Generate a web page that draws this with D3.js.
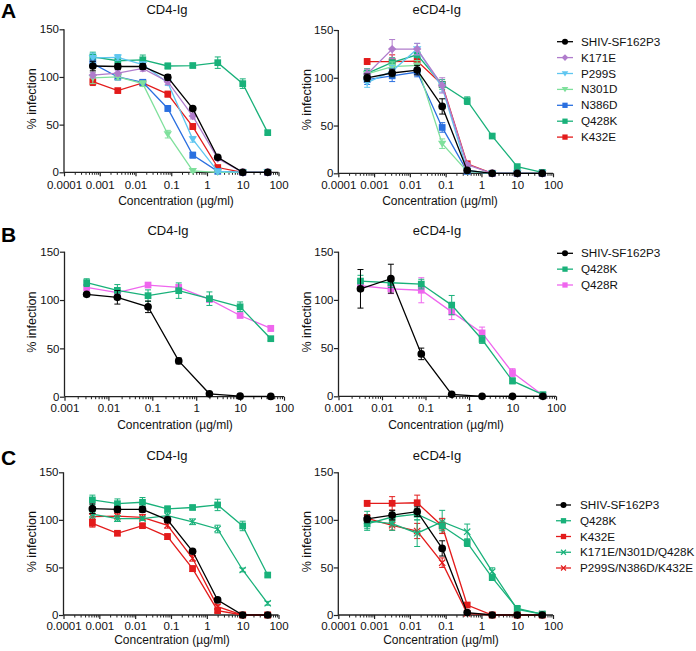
<!DOCTYPE html>
<html><head><meta charset="utf-8">
<script src="https://cdn.jsdelivr.net/npm/d3@7"></script>
<style>
html,body{margin:0;padding:0;background:#fff;}
svg{display:block;font-family:"Liberation Sans",Arial,sans-serif;}
</style></head>
<body><svg id="c" width="696" height="651"></svg>
<script>
// ---------------- DATA ----------------
const conc8 = [0.00064, 0.0032, 0.016, 0.08, 0.4, 2, 10, 50];
const conc7 = [0.0032, 0.016, 0.08, 0.4, 2, 10, 50];
const xTicksA = [0.0001, 0.001, 0.01, 0.1, 1, 10, 100];
const xTicksB = [0.001, 0.01, 0.1, 1, 10, 100];
const xTickLabelsA = ["0.0001", "0.001", "0.01", "0.1", "1", "10", "100"];
const xTickLabelsB = ["0.001", "0.01", "0.1", "1", "10", "100"];
const yTicks = [0, 50, 100, 150];

const legendA = ["SHIV-SF162P3", "K171E", "P299S", "N301D", "N386D", "Q428K", "K432E"];
const legendB = ["SHIV-SF162P3", "Q428K", "Q428R"];
const legendC = ["SHIV-SF162P3", "Q428K", "K432E", "K171E/N301D/Q428K", "P299S/N386D/K432E"];

// Panel A, CD4-Ig
const aCd4Shiv  = [111.5, 111, 111, 99.6, 66.8, 15.7, 0, 0];
const aCd4K171E = [102, 104, 109, 95, 59, 14.5, 0, 0];
const aCd4P299S = [120, 120.5, 113, 94, 34.6, 1, 0, 0];
const aCd4N301D = [99, 100, 93, 40, 1.5, 0, 0, 0];
const aCd4N386D = [114, 100, 94.4, 67, 18, 1, 0, 0];
const aCd4Q428K = [121, 117, 118, 111.5, 112, 115, 93, 41.6];
const aCd4K432E = [95, 85.7, 93.7, 82, 48, 5, 0, 0];
const aCd4ShivErr  = [5, 3, 3, 3, 2, 2, 0, 0];
const aCd4K171EErr = [3, 3, 3, 3, 3, 2, 0, 0];
const aCd4P299SErr = [5, 3, 3, 3, 3, 1, 0, 0];
const aCd4N301DErr = [6, 3, 3, 4, 2, 0, 0, 0];
const aCd4N386DErr = [4, 3, 3, 3, 3, 1, 0, 0];
const aCd4Q428KErr = [5, 4, 5, 3, 2, 6, 5, 2];
const aCd4K432EErr = [4, 2, 2, 3, 3, 2, 0, 0];

// Panel A, eCD4-Ig
const aeShiv  = [100, 105, 108, 70, 3, 0, 0, 0];
const aeK171E = [104, 130, 130, 92, 9, 0, 0, 0];
const aeP299S = [95, 107, 130, 90, 3, 0, 0, 0];
const aeN301D = [104, 111.6, 113, 31, 2, 0, 0, 0];
const aeN386D = [98, 102, 106, 48, 2, 0, 0, 0];
const aeQ428K = [104.6, 116, 124, 93, 76, 39, 7, 1];
const aeK432E = [117, 117, 117.5, 93, 10, 0, 0, 0];
const aeShivErr  = [4, 4, 5, 8, 1, 0, 0, 0];
const aeK171EErr = [5, 10, 6, 8, 2, 0, 0, 0];
const aeP299SErr = [5, 6, 6, 5, 2, 0, 0, 0];
const aeN301DErr = [5, 5, 5, 5, 1, 0, 0, 0];
const aeN386DErr = [5, 6, 5, 5, 1, 0, 0, 0];
const aeQ428KErr = [5, 5, 6, 5, 4, 2, 2, 1];
const aeK432EErr = [3, 7, 4, 3, 1, 0, 0, 0];

// Panel B, CD4-Ig
const bCd4Shiv  = [105.9, 102.8, 93, 37, 3, 0.5, 0.3];
const bCd4Q428K = [118, 110, 104.5, 109.7, 101.4, 93, 60];
const bCd4Q428R = [113, 107.6, 115.5, 113, 100.7, 84, 70.7];
const bCd4ShivErr  = [2, 7, 6, 3, 1, 0, 0];
const bCd4Q428KErr = [4, 6, 6, 8, 7, 5, 2];
const bCd4Q428RErr = [3, 3, 2, 3, 3, 2, 3];

// Panel B, eCD4-Ig
const beShiv  = [111.5, 122, 44, 2, 0, 0, 0];
const beQ428K = [119.5, 117.8, 116.4, 94.6, 58.9, 16, 1.7];
const beQ428R = [114.7, 111.5, 110, 87.6, 65.8, 24.6, 1];
const beShivErr  = [20, 15, 6, 1, 0, 0, 0];
const beQ428KErr = [6, 5, 5, 10, 4, 3, 1];
const beQ428RErr = [5, 5, 13, 8, 6, 4, 1];

// Panel C, CD4-Ig
const cCd4Shiv  = [111.8, 111, 111, 100, 67, 15.8, 0, 0];
const cCd4Q428K = [121, 117, 118.5, 111.5, 113, 115.7, 93.6, 42];
const cCd4K432E = [96.4, 85.9, 93.9, 82.4, 48.7, 4.6, 0, 0];
const cCd4Triple1 = [106, 101.3, 101.3, 104.4, 98, 90.4, 47.3, 12.3];
const cCd4Triple2 = [103.4, 104, 102.7, 94.3, 59.6, 8.8, 0, 0];
const cCd4ShivErr  = [5, 3, 3, 3, 2, 2, 0, 0];
const cCd4Q428KErr = [5, 5, 5, 3, 2, 6, 5, 2];
const cCd4K432EErr = [4, 2, 2, 3, 3, 2, 0, 0];
const cCd4Triple1Err = [4, 3, 2, 3, 3, 4, 2, 2];
const cCd4Triple2Err = [3, 3, 3, 3, 3, 2, 0, 0];

// Panel C, eCD4-Ig
const ceShiv  = [101, 105, 108.7, 70, 2.5, 0, 0, 0];
const ceQ428K = [95.7, 103, 106, 93.6, 76, 39.3, 7, 1];
const ceK432E = [117.4, 117.4, 118, 93.6, 10.5, 0, 0, 0];
const ceTriple1 = [99, 96, 86, 98, 87.6, 45.6, 6, 1];
const ceTriple2 = [101.6, 94.3, 88.3, 55, 1.7, 0, 0, 0];
const ceShivErr  = [4, 5, 5, 8, 1, 0, 0, 0];
const ceQ428KErr = [5, 5, 6, 5, 4, 3, 2, 1];
const ceK432EErr = [3, 7, 8, 8, 2, 0, 0, 0];
const ceTriple1Err = [10, 7, 14, 12, 8, 4, 2, 1];
const ceTriple2Err = [4, 5, 8, 5, 1, 0, 0, 0];

// ---------------- STYLES ----------------
const STY = {
  "SHIV-SF162P3": {color: "#000000", shape: "circle"},
  "K171E": {color: "#b07ccc", shape: "diamond"},
  "P299S": {color: "#5fc6f0", shape: "tridown"},
  "N301D": {color: "#7fe09c", shape: "tridown"},
  "N386D": {color: "#2a6fe0", shape: "square"},
  "Q428K": {color: "#19b17a", shape: "square"},
  "K432E": {color: "#e31b1b", shape: "square"},
  "Q428R": {color: "#ef66ee", shape: "square"},
  "K171E/N301D/Q428K": {color: "#19b17a", shape: "x"},
  "P299S/N386D/K432E": {color: "#e31b1b", shape: "x"}
};

const mk = (name, x, y, e) => ({name, x, y, e});
const panels = [
  {title: "CD4-Ig", ox: 64, x1: 278.5, y0: 172.3, y150: 29.3, dom: [1e-4, 100], ticks: xTicksA, labels: xTickLabelsA,
   tx: 167, ty: 14, lx: 176, ly: 205, ylx: 31.5, tly: 8.5,
   series: [mk("SHIV-SF162P3", conc8, aCd4Shiv, aCd4ShivErr), mk("K171E", conc8, aCd4K171E, aCd4K171EErr),
            mk("P299S", conc8, aCd4P299S, aCd4P299SErr), mk("N301D", conc8, aCd4N301D, aCd4N301DErr),
            mk("N386D", conc8, aCd4N386D, aCd4N386DErr), mk("Q428K", conc8, aCd4Q428K, aCd4Q428KErr),
            mk("K432E", conc8, aCd4K432E, aCd4K432EErr)]},
  {title: "eCD4-Ig", ox: 338.3, x1: 553, y0: 173.3, y150: 30, dom: [1e-4, 100], ticks: xTicksA, labels: xTickLabelsA,
   tx: 436.7, ty: 14, lx: 440, ly: 205, ylx: 307, tly: 7.5,
   series: [mk("SHIV-SF162P3", conc8, aeShiv, aeShivErr), mk("K171E", conc8, aeK171E, aeK171EErr),
            mk("P299S", conc8, aeP299S, aeP299SErr), mk("N301D", conc8, aeN301D, aeN301DErr),
            mk("N386D", conc8, aeN386D, aeN386DErr), mk("Q428K", conc8, aeQ428K, aeQ428KErr),
            mk("K432E", conc8, aeK432E, aeK432EErr)]},
  {title: "CD4-Ig", ox: 64.5, x1: 284, y0: 396.7, y150: 251.7, dom: [1e-3, 100], ticks: xTicksB, labels: xTickLabelsB,
   tx: 168, ty: 235, lx: 175, ly: 429, ylx: 31.5, tly: 7.5,
   series: [mk("SHIV-SF162P3", conc7, bCd4Shiv, bCd4ShivErr), mk("Q428K", conc7, bCd4Q428K, bCd4Q428KErr),
            mk("Q428R", conc7, bCd4Q428R, bCd4Q428RErr)]},
  {title: "eCD4-Ig", ox: 338.5, x1: 556, y0: 396.3, y150: 251.7, dom: [1e-3, 100], ticks: xTicksB, labels: xTickLabelsB,
   tx: 437, ty: 235, lx: 446, ly: 429, ylx: 307, tly: 7.5,
   series: [mk("SHIV-SF162P3", conc7, beShiv, beShivErr), mk("Q428K", conc7, beQ428K, beQ428KErr),
            mk("Q428R", conc7, beQ428R, beQ428RErr)]},
  {title: "CD4-Ig", ox: 63.5, x1: 278.5, y0: 615, y150: 472.3, dom: [1e-4, 100], ticks: xTicksA, labels: xTickLabelsA,
   tx: 167, ty: 460, lx: 172, ly: 644, ylx: 31.5, tly: 7,
   series: [mk("SHIV-SF162P3", conc8, cCd4Shiv, cCd4ShivErr), mk("Q428K", conc8, cCd4Q428K, cCd4Q428KErr),
            mk("K432E", conc8, cCd4K432E, cCd4K432EErr), mk("K171E/N301D/Q428K", conc8, cCd4Triple1, cCd4Triple1Err),
            mk("P299S/N386D/K432E", conc8, cCd4Triple2, cCd4Triple2Err)]},
  {title: "eCD4-Ig", ox: 338.3, x1: 553, y0: 615, y150: 472.3, dom: [1e-4, 100], ticks: xTicksA, labels: xTickLabelsA,
   tx: 437, ty: 460, lx: 441, ly: 644, ylx: 307, tly: 7,
   series: [mk("SHIV-SF162P3", conc8, ceShiv, ceShivErr), mk("Q428K", conc8, ceQ428K, ceQ428KErr),
            mk("K432E", conc8, ceK432E, ceK432EErr), mk("K171E/N301D/Q428K", conc8, ceTriple1, ceTriple1Err),
            mk("P299S/N386D/K432E", conc8, ceTriple2, ceTriple2Err)]}
];

const svg = d3.select("#c");

function drawMarker(g, shape, color, cx, cy, s) {
  if (shape === "circle") {
    g.append("circle").attr("cx", cx).attr("cy", cy).attr("r", s * 0.55).attr("fill", color);
  } else if (shape === "square") {
    const h = s * 0.48;
    g.append("rect").attr("x", cx - h).attr("y", cy - h).attr("width", 2 * h).attr("height", 2 * h).attr("fill", color);
  } else if (shape === "diamond") {
    const h = s * 0.6;
    g.append("path").attr("d", `M${cx},${cy - h}L${cx + h},${cy}L${cx},${cy + h}L${cx - h},${cy}Z`).attr("fill", color);
  } else if (shape === "tridown") {
    const h = s * 0.6;
    g.append("path").attr("d", `M${cx - h},${cy - h * 0.7}L${cx + h},${cy - h * 0.7}L${cx},${cy + h * 0.9}Z`).attr("fill", color);
  } else if (shape === "x") {
    const h = s * 0.45;
    g.append("path").attr("d", `M${cx - h},${cy - h}L${cx + h},${cy + h}M${cx - h},${cy + h}L${cx + h},${cy - h}`)
      .attr("stroke", color).attr("stroke-width", 1.2).attr("fill", "none");
  }
}

panels.forEach(p => {
  const x = d3.scaleLog().domain(p.dom).range([p.ox, p.x1]);
  const y = d3.scaleLinear().domain([0, 150]).range([p.y0, p.y150]);
  const g = svg.append("g");

  // X axis with major + minor ticks
  const minor = [];
  const lo = Math.log10(p.dom[0]), hi = Math.log10(p.dom[1]);
  for (let d = lo; d < hi; d++) for (let k = 2; k <= 9; k++) minor.push(k * Math.pow(10, d));
  const xAxisMinor = d3.axisBottom(x).tickValues(minor).tickSize(2.5).tickFormat("");
  const xAxis = d3.axisBottom(x).tickValues(p.ticks).tickSize(4).tickFormat((d, i) => p.labels[i]);
  const gxm = g.append("g").attr("transform", `translate(0,${p.y0})`).call(xAxisMinor);
  gxm.select(".domain").remove();
  gxm.selectAll("line").attr("stroke", "#222").attr("stroke-width", 1);
  const gx = g.append("g").attr("transform", `translate(0,${p.y0})`).call(xAxis);
  gx.select(".domain").attr("d", `M${p.ox},0H${p.x1}`).attr("stroke", "#222").attr("stroke-width", 1.3);
  gx.selectAll("line").attr("stroke", "#222").attr("stroke-width", 1.2);
  gx.selectAll("text").attr("font-size", "11.5px").attr("fill", "#111").attr("dy", "0.71em").attr("y", p.tly)
    .attr("font-family", "Liberation Sans, Arial, sans-serif");

  // Y axis
  const yAxis = d3.axisLeft(y).tickValues(yTicks).tickSize(4.5).tickFormat(d3.format("d"));
  const gy = g.append("g").attr("transform", `translate(${p.ox},0)`).call(yAxis);
  gy.select(".domain").attr("d", `M0,${p.y0}V${p.y150}`).attr("stroke", "#222").attr("stroke-width", 1.3);
  gy.selectAll("line").attr("stroke", "#222").attr("stroke-width", 1.2);
  gy.selectAll("text").attr("font-size", "11.5px").attr("fill", "#111").attr("x", -5)
    .attr("font-family", "Liberation Sans, Arial, sans-serif");

  // Labels
  g.append("text").attr("x", p.tx).attr("y", p.ty).attr("text-anchor", "middle").attr("font-size", "13px").attr("fill", "#111").text(p.title);
  g.append("text").attr("x", p.lx).attr("y", p.ly).attr("text-anchor", "middle").attr("font-size", "12px").attr("fill", "#111").text("Concentration (µg/ml)");
  g.append("text").attr("transform", `translate(${p.ylx},${(p.y0 + p.y150) / 2 - 2}) rotate(-90)`)
    .attr("text-anchor", "middle").attr("dy", "0.35em").attr("font-size", "12.5px").attr("fill", "#111").text("% infection");

  // Series (drawn in reverse so the first series sits on top)
  const line = d3.line().x(d => x(d[0])).y(d => y(d[1]));
  p.series.slice().reverse().forEach(s => {
    const st = STY[s.name];
    const pts = s.x.map((v, i) => [v, s.y[i], s.e[i]]);
    const sg = g.append("g");
    sg.append("path").attr("d", line(pts)).attr("fill", "none").attr("stroke", st.color).attr("stroke-width", 1.3);
    pts.forEach(d => {
      if (d[2] > 0.5) {
        const cx = x(d[0]), ya = y(d[1] + d[2]), yb = y(Math.max(0, d[1] - d[2]));
        sg.append("path").attr("d", `M${cx},${ya}V${yb}M${cx - 3},${ya}H${cx + 3}M${cx - 3},${yb}H${cx + 3}`)
          .attr("stroke", st.color).attr("stroke-width", 1).attr("fill", "none");
      }
    });
    pts.forEach(d => drawMarker(sg, st.shape, st.color, x(d[0]), y(d[1]), 7));
  });
});

// Panel letters
[["A", 18], ["B", 241.5], ["C", 465]].forEach(([t, yy]) => {
  svg.append("text").attr("x", 1).attr("y", yy).attr("font-size", "21px").attr("font-weight", "bold").attr("fill", "#000").text(t);
});

// Legends
function legend(names, y0, step, lx0, lx1, tx) {
  names.forEach((n, i) => {
    const st = STY[n];
    const yy = y0 + i * step;
    const g = svg.append("g");
    g.append("line").attr("x1", lx0).attr("x2", lx1).attr("y1", yy).attr("y2", yy).attr("stroke", st.color).attr("stroke-width", 1.3);
    drawMarker(g, st.shape, st.color, (lx0 + lx1) / 2, yy, 5.5);
    g.append("text").attr("x", tx).attr("y", yy).attr("dy", "0.35em").attr("font-size", "11.7px").attr("fill", "#111").text(n);
  });
}
legend(legendA, 41.7, 15.9, 557, 573, 581);
legend(legendB, 253.3, 15.85, 557, 573, 581);
legend(legendC, 505, 15.75, 556, 571, 580);
</script>
</body></html>
